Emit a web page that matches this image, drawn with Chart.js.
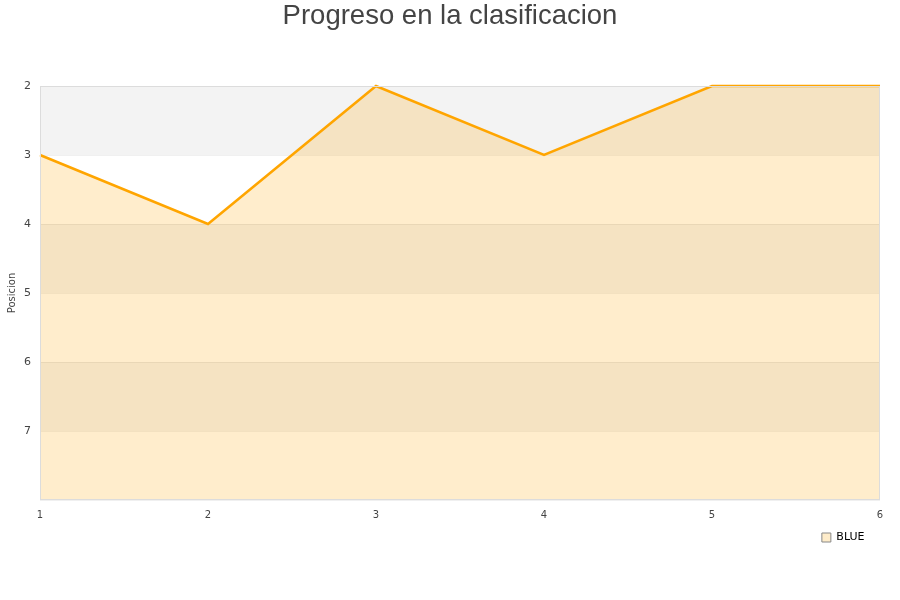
<!DOCTYPE html>
<html>
<head>
<meta charset="utf-8">
<script src="https://cdn.jsdelivr.net/npm/chart.js@4"></script>
<style>
  html, body { margin: 0; padding: 0; background: #fff; }
  #wrap { width: 900px; height: 600px; }
</style>
</head>
<body>
<div id="wrap"><canvas id="chart"></canvas></div>
<script>
// Jornadas and position reached in each one
const jornadas = ['1', '2', '3', '4', '5', '6'];
const posiciones = [3, 4, 2, 3, 2, 2];
const serieNombre = 'BLUE';
const titulo = 'Progreso en la clasificacion';

// Alternating grey bands behind the plot, frame and centred title
const bandsPlugin = {
  id: 'bands',
  beforeDraw(chart) {
    const { ctx, chartArea, scales } = chart;
    const y = scales.y;
    ctx.save();
    for (let v = 2; v < 8; v++) {
      if ((v - 2) % 2 === 0) {
        const top = y.getPixelForValue(v);
        const bot = y.getPixelForValue(v + 1);
        ctx.fillStyle = '#f3f3f3';
        ctx.fillRect(chartArea.left, top, chartArea.right - chartArea.left, bot - top);
      }
    }
    ctx.restore();
  },
  afterDraw(chart) {
    const { ctx, chartArea } = chart;
    ctx.save();
    ctx.strokeStyle = '#dcdcdc';
    ctx.lineWidth = 1;
    ctx.strokeRect(chartArea.left + 0.5, chartArea.top + 0.5,
      chartArea.right - chartArea.left - 1, chartArea.bottom - chartArea.top - 1);
    // title centred on the whole canvas
    ctx.fillStyle = '#444';
    ctx.font = '27.5px "Liberation Sans", Arial, sans-serif';
    ctx.textAlign = 'center';
    ctx.textBaseline = 'middle';
    ctx.fillText(titulo, chart.width / 2, 16);
    ctx.restore();
  }
};

Chart.defaults.font.family = '"DejaVu Sans", sans-serif';
Chart.defaults.color = '#444';

new Chart(document.getElementById('chart'), {
  type: 'line',
  data: {
    labels: jornadas,
    datasets: [{
      label: serieNombre,
      data: posiciones,
      borderColor: '#ffa500',
      backgroundColor: 'rgba(255,165,0,0.2)',
      borderWidth: 2.5,
      pointRadius: 0,
      tension: 0,
      fill: { value: 8 },
      clip: 4
    }]
  },
  options: {
    responsive: true,
    maintainAspectRatio: false,
    animation: false,
    layout: { padding: { left: 0, right: 20, top: 86, bottom: 47 } },
    plugins: {
      title: { display: false },
      legend: {
        position: 'bottom',
        align: 'end',
        labels: {
          boxWidth: 9,
          boxHeight: 9,
          padding: 10,
          color: '#000',
          font: { size: 11 },
          generateLabels(chart) {
            // trailing en space keeps the entry a little off the right edge
            return [{
              text: serieNombre + '\u2002',
              fillStyle: '#feecca',
              strokeStyle: '#888',
              lineWidth: 1,
              datasetIndex: 0
            }];
          }
        }
      },
      tooltip: { enabled: false }
    },
    scales: {
      x: {
        offset: false,
        grid: { display: false },
        border: { display: false },
        ticks: { font: { size: 10 }, padding: 1, maxRotation: 0 }
      },
      y: {
        reverse: true,
        min: 2,
        max: 8,
        border: { display: false },
        grid: { color: 'rgba(0,0,0,0.06)', drawTicks: false },
        ticks: {
          stepSize: 1,
          padding: 9,
          font: { size: 11 },
          callback: v => (v === 8 ? '' : v)
        },
        title: {
          display: true,
          text: 'Posicion',
          font: { size: 10 },
          padding: { top: 6, bottom: -3 }
        }
      }
    }
  },
  plugins: [bandsPlugin]
});
</script>
</body>
</html>
